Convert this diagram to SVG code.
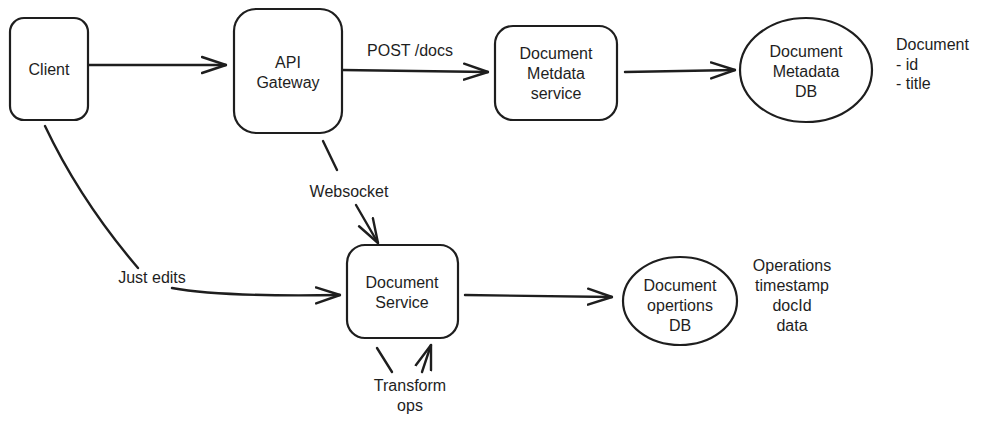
<svg xmlns="http://www.w3.org/2000/svg" width="981" height="424" viewBox="0 0 981 424">
<defs>
<style>
.n{fill:#fff;stroke:#1e1e1e;stroke-width:2.2}
.c{fill:none;stroke:#1e1e1e;stroke-width:2.4;stroke-linecap:round;stroke-linejoin:round}
.t{font-family:"Liberation Sans","DejaVu Sans",sans-serif;font-size:16px;fill:#1e1e1e;text-anchor:middle;dominant-baseline:central}
.l{text-anchor:start}
</style>
<marker id="a" viewBox="0 0 26 20" refX="25" refY="10" markerWidth="26" markerHeight="20" markerUnits="userSpaceOnUse" orient="auto">
<path d="M1,2 L25,10 L1,18" fill="none" stroke="#1e1e1e" stroke-width="2.4" stroke-linecap="round" stroke-linejoin="round"/>
</marker>
</defs>
<rect width="981" height="424" fill="#fff"/>
<g id="connectors">
<path class="c" d="M88,65 L226,65" marker-end="url(#a)"/>
<path class="c" d="M342,70 L488,72" marker-end="url(#a)"/>
<path class="c" d="M625,72 L735,70" marker-end="url(#a)"/>
<path class="c" d="M323,141 L337,170"/>
<path class="c" d="M356,205 L378,243" marker-end="url(#a)"/>
<path class="c" d="M45,126 Q80,200 138,268"/>
<path class="c" d="M172,288 Q220,297 340,295" marker-end="url(#a)"/>
<path class="c" d="M377,348 L392,372"/>
<path class="c" d="M422,372 L431,345" marker-end="url(#a)"/>
<path class="c" d="M465,295 L612,297" marker-end="url(#a)"/>
<text class="t" x="410" y="50">POST /docs</text>
<text class="t" x="349" y="191">Websocket</text>
<text class="t" x="152" y="277">Just edits</text>
<text class="t" x="410" y="385">Transform</text>
<text class="t" x="410" y="405">ops</text>
</g>
<g id="client">
<rect class="n" x="10" y="18" width="78" height="102" rx="14"/>
<text class="t" x="49" y="69">Client</text>
</g>
<g id="gateway">
<rect class="n" x="234" y="9" width="108" height="124" rx="22"/>
<text class="t" x="288" y="62">API</text>
<text class="t" x="288" y="82">Gateway</text>
</g>
<g id="metadata-service">
<rect class="n" x="495" y="26" width="122" height="94" rx="18"/>
<text class="t" x="556" y="53">Document</text>
<text class="t" x="556" y="73">Metdata</text>
<text class="t" x="556" y="93">service</text>
</g>
<g id="metadata-db">
<ellipse class="n" cx="806" cy="70" rx="66" ry="52"/>
<text class="t" x="806" y="51">Document</text>
<text class="t" x="806" y="71">Metadata</text>
<text class="t" x="806" y="91">DB</text>
</g>
<g id="metadata-note">
<text class="t l" x="896" y="44">Document</text>
<text class="t l" x="896" y="64">- id</text>
<text class="t l" x="896" y="83">- title</text>
</g>
<g id="document-service">
<rect class="n" x="347" y="245" width="111" height="93" rx="18"/>
<text class="t" x="402" y="282">Document</text>
<text class="t" x="402" y="302">Service</text>
</g>
<g id="operations-db">
<ellipse class="n" cx="680" cy="301" rx="57" ry="44"/>
<text class="t" x="680" y="285">Document</text>
<text class="t" x="680" y="305">opertions</text>
<text class="t" x="680" y="325">DB</text>
</g>
<g id="operations-note">
<text class="t" x="792" y="265">Operations</text>
<text class="t" x="792" y="285">timestamp</text>
<text class="t" x="792" y="305">docId</text>
<text class="t" x="792" y="325">data</text>
</g>
</svg>
